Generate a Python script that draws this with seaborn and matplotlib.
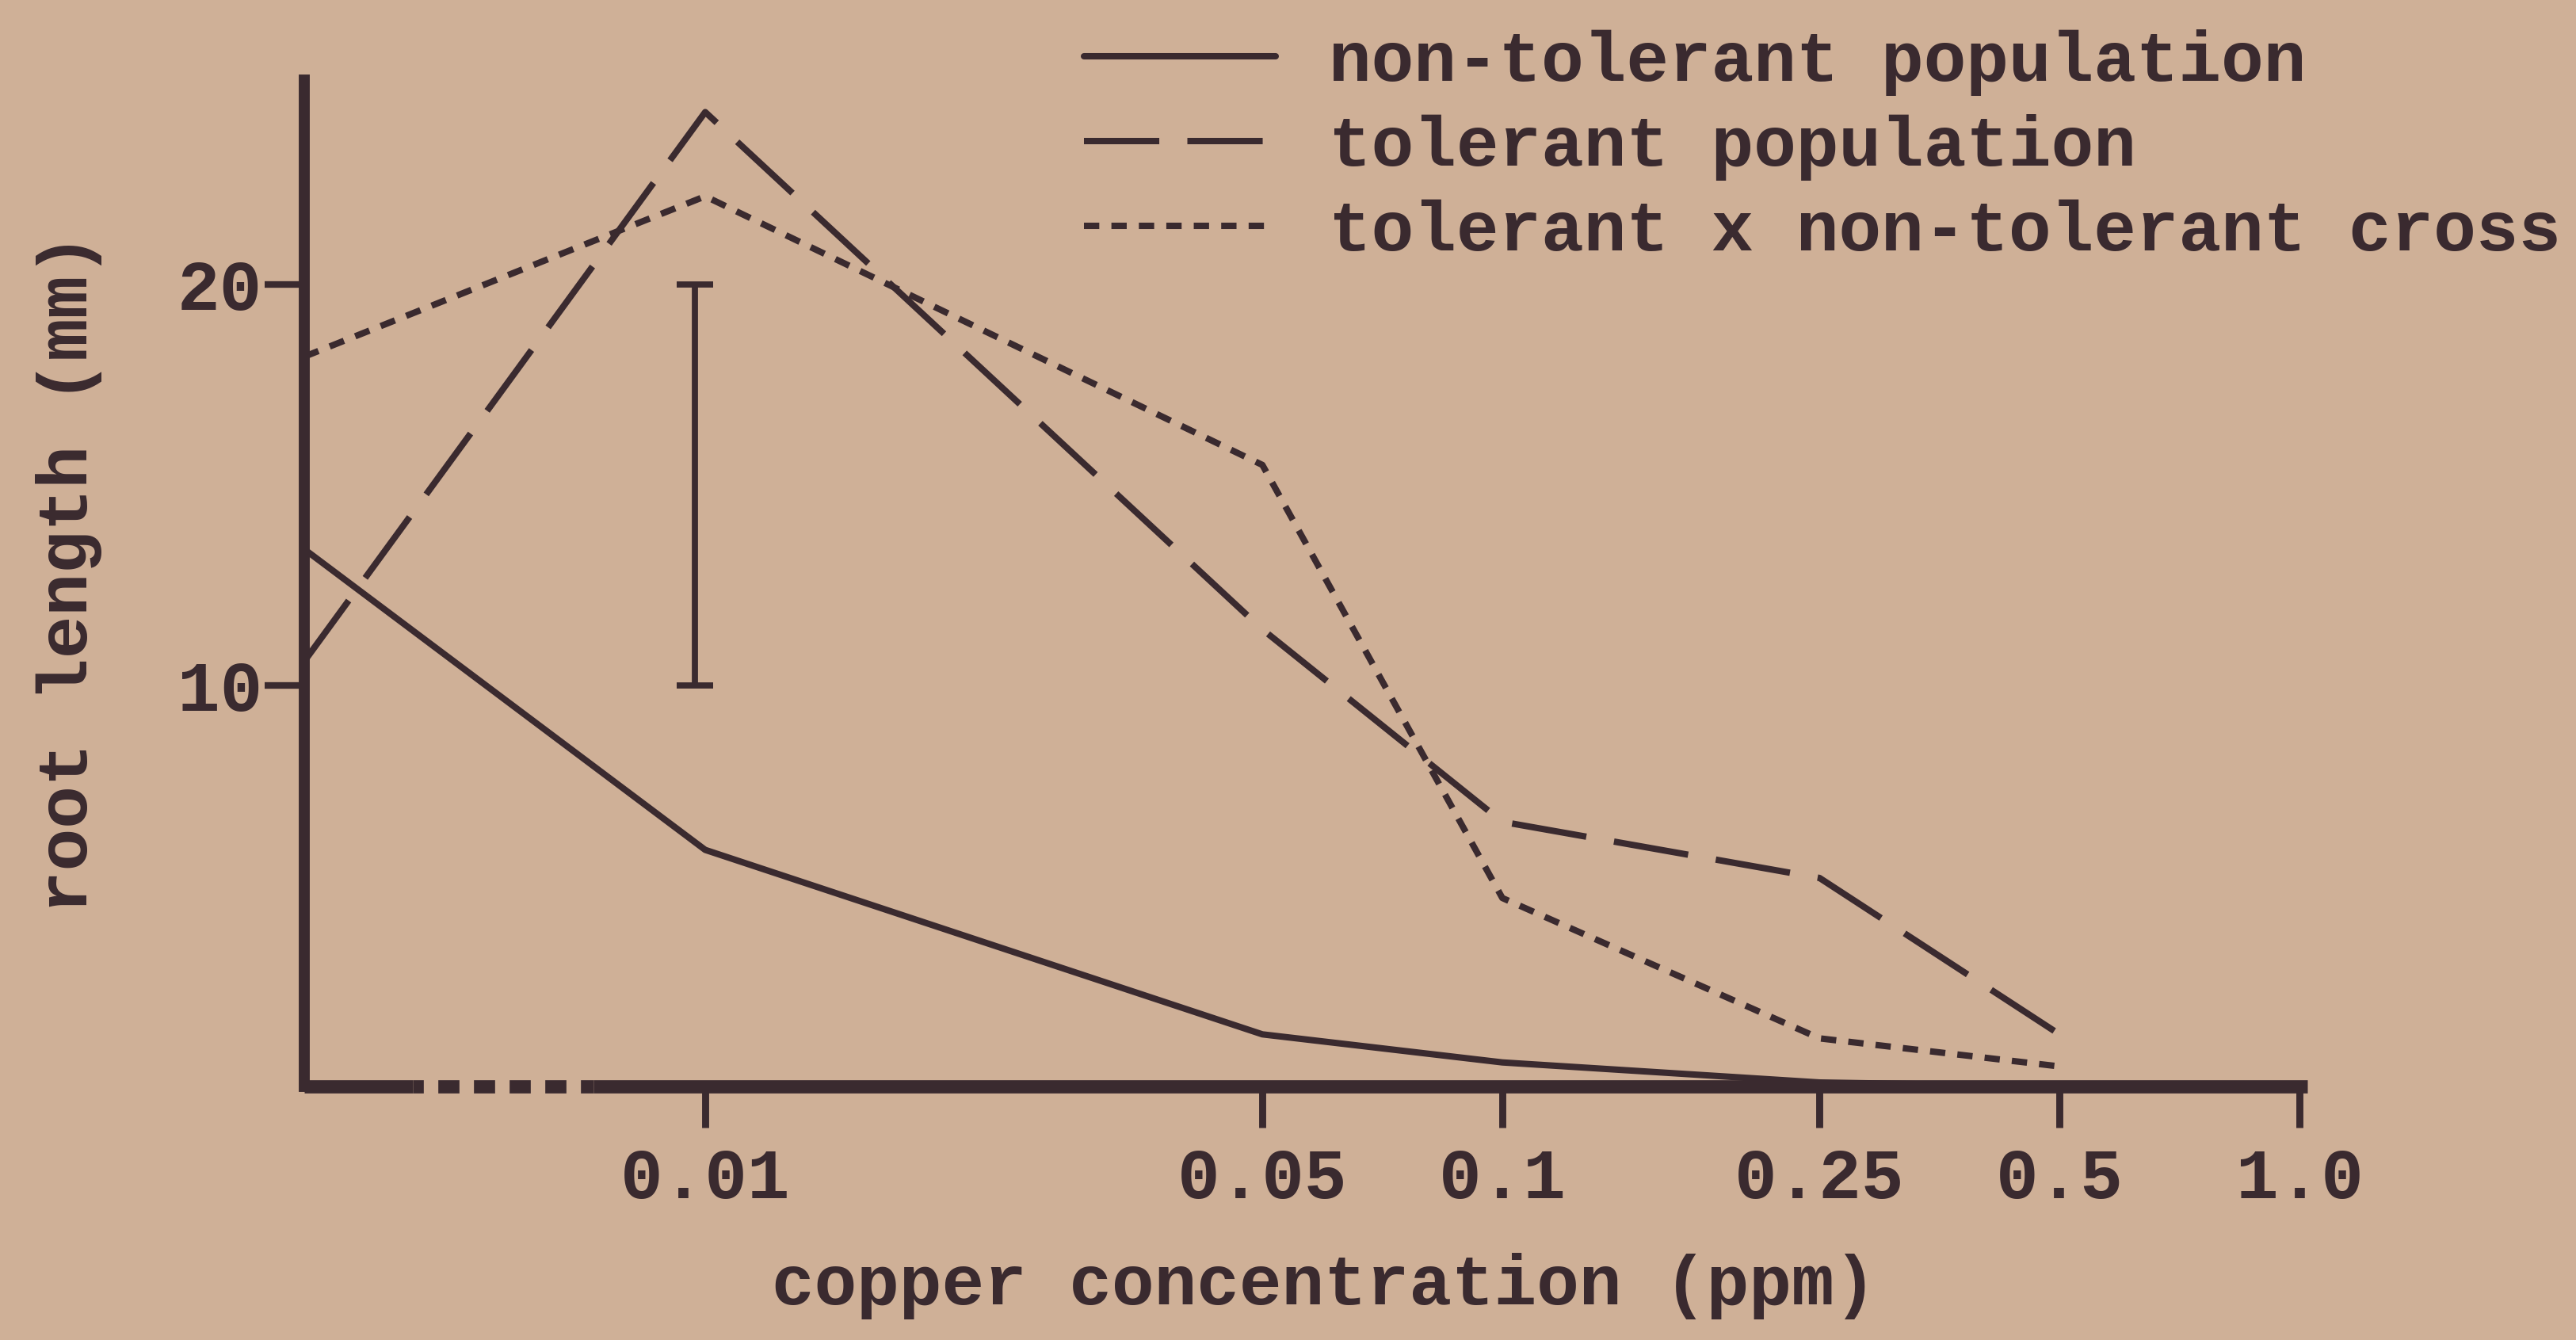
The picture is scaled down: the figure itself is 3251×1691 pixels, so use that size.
import matplotlib
matplotlib.use("Agg")
import pandas as pd
import matplotlib.pyplot as plt
import seaborn as sns
from matplotlib.ticker import NullLocator

# copper concentration (ppm); the control (no copper) sits at the foot of the log axis
conc = [0.00314, 0.01, 0.05, 0.1, 0.25, 0.5]
non_tolerant = [13.4, 5.9, 1.3, 0.6, 0.1, 0.0]
tolerant = [10.6, 24.3, 11.4, 6.6, 5.2, 1.3]
cross = [18.2, 22.2, 15.5, 4.7, 1.2, 0.5]

series_names = ["non-tolerant population", "tolerant population",
                "tolerant x non-tolerant cross"]

xtick_values = [0.01, 0.05, 0.1, 0.25, 0.5, 1.0]
xtick_labels = ["0.01", "0.05", "0.1", "0.25", "0.5", "1.0"]
ytick_values = [10, 20]
ytick_labels = ["10", "20"]

# least significant difference bar drawn near 0.01 ppm
lsd_x = [0.0097]
lsd_mid = [15.0]
lsd_half = [5.0]

# axis break on the x axis between control and the first concentration
break_lo, break_hi = 0.0043, 0.00724
x_left, x_right = 0.00314, 1.023
y_top = 25.1

paper = "#CFB097"
ink = "#3A2A2F"

sns.set_theme(style="white", rc={
    "figure.facecolor": paper,
    "axes.facecolor": paper,
    "savefig.facecolor": paper,
    "text.color": ink,
    "axes.labelcolor": ink,
    "xtick.color": ink,
    "ytick.color": ink,
    "xtick.bottom": True,
    "ytick.left": True,
})
plt.rcParams["font.family"] = ["Liberation Mono", "DejaVu Sans Mono"]
plt.rcParams["font.weight"] = "bold"
plt.rcParams["axes.labelweight"] = "bold"
fs = 32.2

fig = plt.figure(figsize=(16.255, 8.455), dpi=200)
ax = fig.add_axes([0.1181, 0.1892, 0.7776, 0.7511])

lw = 2.9
styles = ["-", (0, (11.8, 4.4)), (0, (2.4, 1.9))]
for name, vals, ls in zip(series_names, [non_tolerant, tolerant, cross], styles):
    sns.lineplot(x=conc, y=vals, ax=ax, color=ink, linewidth=lw,
                 linestyle=ls, label=name, sort=False, estimator=None,
                 clip_on=False)

ax.errorbar(lsd_x, lsd_mid, yerr=lsd_half, fmt="none", ecolor=ink,
            elinewidth=2.8, capsize=8.3, capthick=2.8)

ax.set_xscale("log")
ax.set_xlim(x_left, x_right)
ax.set_ylim(0, y_top)
ax.set_xticks(xtick_values)
ax.set_xticklabels(xtick_labels)
ax.xaxis.set_minor_locator(NullLocator())
ax.set_yticks(ytick_values)
ax.set_yticklabels(ytick_labels)
ax.tick_params(axis="x", which="major", bottom=True, direction="out",
               length=18.7, width=3.2, pad=9, labelsize=fs)
ax.tick_params(axis="y", which="major", left=True, direction="out",
               length=18, width=3.0, pad=1, labelsize=fs)

for side in ["top", "right", "bottom"]:
    ax.spines[side].set_visible(False)
ax.spines["left"].set_linewidth(5.0)
ax.spines["left"].set_color(ink)

# x axis drawn in pieces so the break shows
trans = ax.get_xaxis_transform()
ax.plot([x_left, break_lo], [0, 0], transform=trans, color=ink, lw=6.0,
        solid_capstyle="butt", clip_on=False)
ax.plot([break_lo, break_hi], [0, 0], transform=trans, color=ink, lw=6.0,
        linestyle=(0.8, (1.6, 1.1)), clip_on=False)
ax.plot([break_hi, x_right], [0, 0], transform=trans, color=ink, lw=6.0,
        solid_capstyle="butt", clip_on=False)

ax.set_xlabel("copper concentration (ppm)", fontsize=fs, fontweight="bold")
ax.set_ylabel("root length (mm)", fontsize=fs, fontweight="bold")
ax.xaxis.set_label_coords(0.509, -0.165)
ax.yaxis.set_label_coords(-0.101, 0.51)

handles, labels = ax.get_legend_handles_labels()
ax.legend(handles, labels, loc="upper left", bbox_to_anchor=(0.4208, 0.978),
          bbox_transform=fig.transFigure, frameon=False, handlelength=2.7,
          handletextpad=0.75, labelspacing=0.26, borderpad=0,
          borderaxespad=0, fontsize=fs)

fig.savefig("out.png", dpi=200)
